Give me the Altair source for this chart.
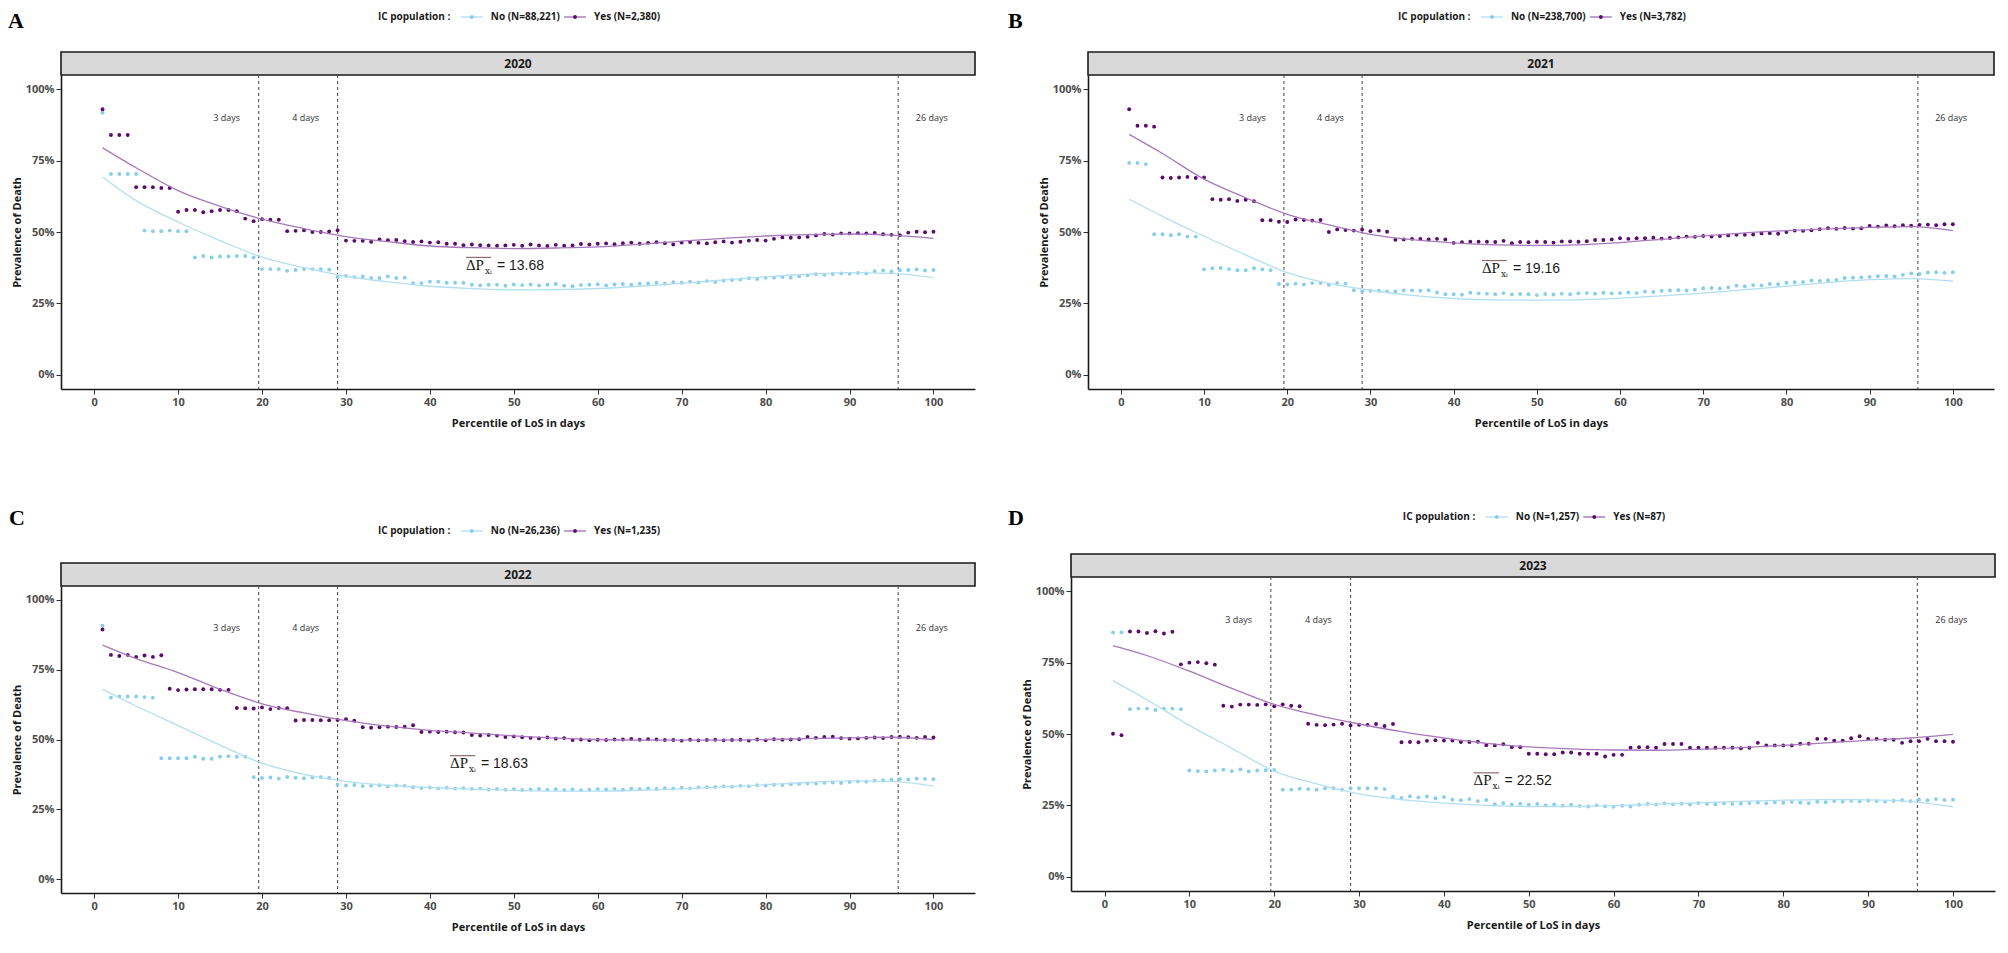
import altair as alt
import pandas as pd

# ---------------- data ----------------
PCT = list(range(1, 101))
FIT_X = [1, 5, 10, 15, 20, 25, 30, 35, 40, 45, 50, 55, 60, 65, 70, 75, 80, 85, 90, 95, 100]

A_YES = [93.0, 84.0, 84.0, 84.0, 65.7, 65.7, 65.7, 65.4, 65.4, 57.1,
         57.7, 57.7, 56.9, 57.3, 57.7, 57.7, 57.3, 54.7, 53.8, 54.5,
         54.3, 54.3, 50.3, 50.4, 50.6, 50.0, 50.0, 50.2, 50.6, 47.0,
         46.9, 46.9, 46.6, 47.4, 47.1, 47.2, 46.8, 46.5, 46.7, 46.3,
         46.4, 45.9, 45.9, 45.4, 45.6, 45.4, 45.3, 45.2, 45.3, 45.5,
         45.2, 45.6, 45.3, 45.1, 45.5, 45.2, 45.3, 45.8, 45.6, 45.9,
         46.0, 45.7, 46.1, 46.3, 45.9, 46.2, 46.4, 46.1, 45.6, 46.3,
         46.5, 46.2, 46.0, 46.4, 46.7, 46.3, 46.6, 47.0, 47.2, 47.0,
         47.6, 48.1, 48.0, 48.1, 48.3, 48.8, 49.3, 49.1, 49.5, 49.5,
         49.6, 49.5, 49.7, 49.2, 49.0, 48.9, 49.8, 50.1, 49.9, 50.1]
A_NO = [91.8, 70.3, 70.3, 70.3, 70.3, 50.5, 50.3, 50.3, 50.5, 50.3,
        50.3, 41.1, 41.6, 41.1, 41.4, 41.4, 41.6, 41.6, 41.1, 37.0,
        37.0, 37.0, 36.4, 36.7, 37.0, 37.0, 37.0, 36.8, 34.2, 34.6,
        34.2, 34.4, 33.9, 33.9, 34.4, 33.9, 34.0, 32.1, 32.1, 32.6,
        32.6, 32.2, 32.2, 32.2, 31.5, 31.3, 31.5, 31.5, 31.2, 31.6,
        31.4, 31.6, 31.3, 31.5, 31.8, 31.2, 31.0, 31.4, 31.5, 31.7,
        31.3, 31.6, 31.8, 31.5, 31.9, 32.0, 32.2, 31.9, 32.4, 32.2,
        32.6, 32.3, 32.8, 32.5, 33.0, 33.2, 33.4, 33.8, 33.5, 34.0,
        34.0, 34.2, 34.0, 34.5, 34.8, 35.2, 35.0, 35.3, 35.5, 35.4,
        35.7, 35.5, 36.3, 36.5, 36.2, 36.6, 36.7, 36.9, 36.5, 36.7]
A_YES_FIT = [79.5, 72.5, 64.5, 59.0, 54.5, 51.2, 48.4, 46.6, 45.1, 44.5, 44.2,
             44.4, 44.8, 45.7, 46.8, 47.8, 48.6, 49.1, 49.3, 48.9, 47.8]
A_NO_FIT = [69.3, 61.0, 53.5, 47.0, 41.2, 37.5, 34.5, 32.5, 31.0, 30.2, 29.7,
            29.8, 30.2, 31.0, 32.0, 33.2, 34.3, 35.2, 35.8, 35.5, 34.0]

B_YES = [93.0, 87.2, 87.2, 86.9, 69.1, 68.9, 69.1, 69.3, 68.9, 69.1,
         61.5, 61.3, 61.5, 60.9, 61.3, 60.8, 54.1, 54.1, 53.6, 53.5,
         54.4, 54.2, 54.0, 54.2, 50.0, 50.9, 50.7, 50.5, 50.9, 50.3,
         50.5, 50.1, 47.3, 47.4, 47.6, 47.6, 47.4, 47.6, 47.4, 46.2,
         46.4, 46.6, 46.6, 46.6, 46.5, 46.9, 46.1, 46.5, 46.4, 46.6,
         46.5, 46.3, 46.7, 46.7, 46.6, 46.8, 47.2, 47.2, 47.4, 47.8,
         47.6, 47.8, 47.8, 48.0, 47.7, 47.9, 48.1, 48.4, 48.3, 48.6,
         48.4, 48.6, 48.8, 49.0, 49.0, 49.1, 49.5, 49.6, 49.4, 50.0,
         50.5, 50.4, 50.6, 51.0, 51.3, 51.1, 51.4, 51.2, 51.3, 52.1,
         51.9, 52.3, 52.0, 52.4, 52.2, 52.5, 52.6, 52.4, 52.7, 52.7]
B_NO = [74.2, 74.2, 73.8, 49.2, 49.2, 48.9, 49.2, 48.4, 48.4, 36.9,
        37.3, 37.4, 37.0, 36.6, 36.6, 37.3, 36.9, 36.6, 31.8, 31.6,
        31.9, 31.6, 32.1, 32.1, 31.5, 32.1, 31.9, 29.6, 29.2, 29.4,
        29.4, 29.2, 29.2, 29.5, 29.5, 29.4, 29.6, 28.8, 28.2, 28.2,
        28.0, 28.7, 28.5, 28.4, 28.2, 28.6, 28.1, 28.3, 28.2, 27.9,
        28.3, 28.1, 28.4, 28.2, 28.5, 28.6, 28.4, 28.7, 28.5, 28.6,
        28.8, 28.6, 29.1, 29.0, 29.4, 29.5, 29.6, 29.5, 29.8, 30.3,
        30.4, 30.2, 30.6, 31.2, 31.0, 31.4, 31.3, 31.8, 31.7, 32.2,
        32.4, 32.5, 33.0, 32.9, 33.1, 33.2, 33.9, 34.0, 34.1, 34.3,
        34.5, 34.6, 34.4, 35.0, 35.5, 35.3, 35.8, 35.9, 35.7, 35.9]
B_YES_FIT = [84.2, 77.5, 68.5, 62.0, 56.2, 52.5, 49.2, 47.3, 46.2, 45.5, 45.3,
             45.5, 46.3, 47.4, 48.6, 49.7, 50.5, 51.1, 51.6, 51.9, 50.5]
B_NO_FIT = [61.5, 55.5, 48.5, 42.0, 35.8, 32.0, 29.6, 27.8, 26.7, 26.2, 26.1,
            26.2, 26.8, 27.6, 28.6, 29.8, 31.0, 32.3, 33.3, 33.7, 32.8]

C_YES = [89.4, 80.3, 79.9, 80.3, 79.6, 80.1, 79.6, 80.2, 68.2, 67.7,
         67.9, 68.0, 68.0, 68.0, 67.8, 67.8, 61.3, 61.2, 61.1, 61.5,
         60.9, 61.3, 61.2, 56.8, 57.0, 57.0, 56.9, 56.9, 57.0, 57.3,
         56.7, 54.4, 54.2, 54.4, 54.6, 54.5, 54.6, 55.1, 52.7, 52.8,
         52.7, 52.8, 52.6, 52.5, 51.6, 51.4, 51.6, 51.4, 50.9, 51.1,
         50.8, 50.6, 50.4, 50.7, 50.3, 50.5, 49.8, 50.0, 49.7, 49.9,
         49.8, 50.0, 50.0, 50.2, 49.9, 50.1, 50.0, 49.8, 49.8, 49.6,
         49.9, 49.7, 49.8, 49.9, 49.7, 49.8, 49.9, 49.6, 50.0, 49.7,
         50.1, 49.9, 50.0, 50.1, 50.9, 50.6, 50.9, 51.0, 50.5, 50.3,
         50.4, 50.6, 50.7, 50.5, 50.9, 51.0, 50.8, 50.6, 50.9, 50.7]
C_NO = [90.8, 65.0, 65.4, 65.4, 65.4, 65.2, 65.0, 43.3, 43.3, 43.3,
        43.3, 43.8, 43.1, 43.1, 43.8, 44.0, 43.8, 43.8, 36.5, 36.2,
        36.4, 36.0, 36.6, 36.3, 36.1, 36.4, 36.5, 36.2, 33.8, 33.5,
        33.7, 33.3, 33.4, 33.6, 33.2, 33.5, 33.4, 32.9, 32.6, 32.8,
        32.5, 32.7, 32.4, 32.6, 32.3, 32.4, 32.1, 32.3, 32.0, 32.2,
        31.9, 32.1, 32.3, 32.0, 32.2, 31.9, 32.1, 31.8, 32.0, 32.2,
        32.1, 32.3, 32.0, 32.4, 32.2, 32.5, 32.3, 32.6, 32.4, 32.7,
        32.5, 32.8, 32.9, 33.0, 33.2, 33.1, 33.4, 33.3, 33.6, 33.5,
        33.8, 33.7, 34.0, 34.1, 34.3, 34.2, 34.5, 34.6, 34.4, 34.8,
        35.0, 34.9, 35.2, 35.3, 35.6, 35.8, 35.7, 36.0, 35.9, 35.8]
C_YES_FIT = [83.8, 79.0, 74.0, 68.0, 62.8, 59.5, 56.8, 54.8, 53.3, 52.3, 51.3,
             50.5, 50.0, 49.8, 49.8, 49.8, 50.0, 50.3, 50.6, 50.8, 50.0]
C_NO_FIT = [68.0, 62.0, 55.0, 48.0, 41.5, 37.5, 35.0, 33.6, 32.8, 32.2, 31.8,
            31.5, 31.5, 31.8, 32.3, 33.0, 33.8, 34.6, 35.2, 35.0, 33.3]

D_YES = [50.1, 49.6, 85.9, 85.9, 85.4, 86.0, 85.2, 85.8, 74.4, 75.0,
         75.2, 74.8, 74.3, 59.9, 59.6, 60.3, 60.3, 60.2, 60.4, 59.7,
         60.4, 59.9, 59.7, 53.6, 53.2, 53.1, 53.3, 53.6, 53.0, 53.2,
         53.2, 53.5, 52.8, 53.5, 47.1, 47.2, 47.1, 47.6, 47.8, 47.7,
         47.7, 47.2, 47.2, 47.3, 46.1, 46.0, 46.4, 45.4, 45.4, 43.1,
         43.1, 42.9, 42.9, 43.5, 43.5, 43.1, 43.1, 43.1, 42.1, 42.7,
         42.7, 45.2, 45.4, 45.4, 45.2, 46.5, 46.5, 46.5, 45.2, 45.2,
         45.2, 45.2, 45.2, 45.2, 45.0, 45.2, 46.9, 46.0, 46.0, 46.0,
         46.0, 46.6, 46.6, 48.3, 48.3, 47.7, 47.7, 48.5, 49.2, 48.3,
         48.3, 48.0, 48.0, 46.9, 47.5, 47.5, 48.3, 47.5, 47.5, 47.3]
D_NO = [85.6, 85.6, 58.7, 58.9, 58.9, 58.4, 58.9, 58.9, 58.7, 37.2,
        37.0, 36.9, 37.2, 37.5, 37.0, 37.6, 36.9, 37.2, 37.3, 37.4,
        30.5, 30.5, 30.8, 30.7, 30.5, 31.0, 31.0, 30.5, 31.0, 31.0,
        31.0, 31.0, 30.7, 28.0, 27.6, 28.2, 27.8, 28.1, 27.5, 27.9,
        27.0, 26.8, 27.2, 26.5, 26.9, 25.4, 25.8, 25.3, 25.6, 25.2,
        25.5, 25.0, 25.3, 24.9, 25.2, 24.8, 24.6, 25.0, 24.7, 24.5,
        24.9, 24.6, 25.2, 25.5, 25.3, 25.7, 25.4, 25.6, 25.3, 25.8,
        25.5, 25.4, 25.7, 25.5, 25.6, 25.8, 26.0, 25.7, 26.1, 25.9,
        26.2, 26.0, 25.8, 26.3, 26.1, 26.5, 26.3, 26.6, 26.4, 26.7,
        26.5, 26.3, 26.6, 26.8, 26.5, 27.0, 26.8, 27.2, 26.9, 27.0]
D_YES_FIT = [81.0, 77.5, 72.0, 66.0, 60.4, 56.6, 53.5, 50.8, 48.6, 46.7, 45.5,
             44.8, 44.4, 44.3, 44.6, 45.2, 46.0, 46.9, 47.8, 48.6, 49.9]
D_NO_FIT = [68.7, 62.0, 53.0, 45.0, 37.0, 32.5, 29.0, 27.0, 25.8, 25.0, 24.6,
            24.6, 24.9, 25.4, 25.9, 26.4, 26.8, 27.0, 26.9, 26.3, 24.5]

LETTERS = ["A", "B", "C", "D"]
YEARS = ["2020", "2021", "2022", "2023"]
LEGEND_TITLE = "IC population :"
NO_LABELS = ["No (N=88,221)", "No (N=238,700)", "No (N=26,236)", "No (N=1,257)"]
YES_LABELS = ["Yes (N=2,380)", "Yes (N=3,782)", "Yes (N=1,235)", "Yes (N=87)"]
DELTAS = ["13.68", "19.16", "18.63", "22.52"]
DELTA_X = [44.3, 43.4, 42.4, 43.5]
DELTA_Y = [36.7, 35.6, 39.8, 32.0]

DAY_LINE_X = [19.6, 29.0, 95.8]
DAY_LABEL_X = [15.8, 25.2, 99.8]
DAY_LABEL_Y = [90, 90, 90]
DAY_LABELS = ["3 days", "4 days", "26 days"]

SERIES = [
    (A_YES, A_NO, A_YES_FIT, A_NO_FIT),
    (B_YES, B_NO, B_YES_FIT, B_NO_FIT),
    (C_YES, C_NO, C_YES_FIT, C_NO_FIT),
    (D_YES, D_NO, D_YES_FIT, D_NO_FIT),
]

# ---------------- layout / style ----------------
LAYOUT = [
    dict(w=914, h=314, lx=-53, ly=-47, legy=-58),
    dict(w=906, h=314, lx=-80, ly=-47, legy=-58),
    dict(w=914, h=307, lx=-52, ly=-61, legy=-55),
    dict(w=924, h=314, lx=-63, ly=-52, legy=-60),
]
FONT = "Open Sans"
PT_NO, PT_YES = "#87CEEB", "#5B0B6C"
LN_NO, LN_YES = "#b3def3", "#a778bb"
X_DOMAIN = [-3.95, 104.95]
Y_DOMAIN = [-5, 105]

_CW = {" ": 2.6, "(": 3.3, ")": 3.3, "=": 5.7, ",": 2.8, ":": 2.8, "N": 7.4,
       "o": 6.2, "e": 5.8, "s": 4.8, "Y": 5.6, "I": 3.3, "C": 6.1, "p": 6.3,
       "u": 6.3, "l": 2.9, "a": 5.9, "t": 4.2, "i": 2.9, "n": 6.3}


def text_w(s):
    return sum(_CW.get(c, 5.7) for c in s)


def legend_layers(i, W, yc):
    labels = [NO_LABELS[i], YES_LABELS[i]]
    total = text_w(LEGEND_TITLE) + 12 + sum(30 + text_w(l) + 6 for l in labels) - 6
    x = W / 2 - total / 2
    txt_kw = dict(font=FONT, fontSize=10, fontWeight="bold", color="#1a1a1a",
                  align="left", baseline="middle")
    out = [alt.Chart(pd.DataFrame({"t": [LEGEND_TITLE]})).mark_text(**txt_kw).encode(
        x=alt.value(x), y=alt.value(yc), text="t:N")]
    x += text_w(LEGEND_TITLE) + 12
    for lab, lc, pc in zip(labels, [LN_NO, LN_YES], [PT_NO, PT_YES]):
        df = pd.DataFrame({"t": [lab]})
        out.append(alt.Chart(df).mark_rule(color=lc, strokeWidth=1.4).encode(
            x=alt.value(x), x2=alt.value(x + 22), y=alt.value(yc)))
        out.append(alt.Chart(df).mark_circle(color=pc, size=15, opacity=1).encode(
            x=alt.value(x + 11), y=alt.value(yc)))
        out.append(alt.Chart(df).mark_text(**txt_kw).encode(
            x=alt.value(x + 30), y=alt.value(yc), text="t:N"))
        x += 30 + text_w(lab) + 6
    return out


def build_panel(i):
    L = LAYOUT[i]
    W, H = L["w"], L["h"]
    yes_pts, no_pts, yes_fit, no_fit = SERIES[i]
    no_lab, yes_lab = NO_LABELS[i], YES_LABELS[i]
    dom = [no_lab, yes_lab]

    xs = alt.Scale(domain=X_DOMAIN, nice=False, zero=False)
    ys = alt.Scale(domain=Y_DOMAIN, nice=False, zero=False)
    xax = alt.Axis(values=list(range(0, 101, 10)), title="Percentile of LoS in days",
                   format="d")
    yax = alt.Axis(values=[0, 25, 50, 75, 100], title="Prevalence of Death",
                   labelExpr="datum.value + '%'")

    pts_df = pd.DataFrame({
        "pct": PCT + PCT,
        "val": no_pts + yes_pts,
        "grp": [no_lab] * len(no_pts) + [yes_lab] * len(yes_pts),
    })
    fit_df = pd.DataFrame({
        "pct": FIT_X + FIT_X,
        "val": no_fit + yes_fit,
        "grp": [no_lab] * len(no_fit) + [yes_lab] * len(yes_fit),
    })
    head_df = pd.DataFrame({"year": [YEARS[i]], "letter": [LETTERS[i]]})
    day_df = pd.DataFrame({"line": DAY_LINE_X, "lx": DAY_LABEL_X,
                           "ly": DAY_LABEL_Y, "lab": DAY_LABELS})
    ann_df = pd.DataFrame({
        "x": [DELTA_X[i]], "y": [DELTA_Y[i]],
        "x2": [DELTA_X[i] + 3.0], "yo": [DELTA_Y[i] + 4.4],
        "val": ["= " + DELTAS[i]],
    })

    X = lambda f: alt.X(f, scale=xs, axis=xax)
    Y = lambda f: alt.Y(f, scale=ys, axis=yax)

    strip = alt.Chart(head_df).mark_rect(
        fill="#d9d9d9", stroke="#1a1a1a", strokeWidth=1.6
    ).encode(x=alt.value(0), x2=alt.value(W), y=alt.value(-23), y2=alt.value(0))
    strip_txt = alt.Chart(head_df).mark_text(
        font=FONT, fontSize=12, fontWeight="bold", color="#1a1a1a"
    ).encode(x=alt.value(W / 2), y=alt.value(-11.5), text="year:N")
    letter = alt.Chart(head_df).mark_text(
        font="Liberation Serif", fontSize=22, fontWeight="bold",
        align="left", baseline="alphabetic", color="black"
    ).encode(x=alt.value(L["lx"]), y=alt.value(L["ly"]), text="letter:N")

    rules = alt.Chart(day_df).mark_rule(
        strokeDash=[3, 3], color="#555555", strokeWidth=1.1
    ).encode(x=X("line:Q"))
    day_txt = alt.Chart(day_df).mark_text(
        font=FONT, fontSize=9, color="#333333"
    ).encode(x=X("lx:Q"), y=Y("ly:Q"), text="lab:N")

    points = alt.Chart(pts_df).mark_circle(size=15, opacity=1).encode(
        x=X("pct:Q"), y=Y("val:Q"),
        fill=alt.Fill("grp:N", scale=alt.Scale(domain=dom, range=[PT_NO, PT_YES]),
                      legend=None),
    )
    lines = alt.Chart(fit_df).mark_line(interpolate="monotone", strokeWidth=1.3).encode(
        x=X("pct:Q"), y=Y("val:Q"),
        color=alt.Color("grp:N", scale=alt.Scale(domain=dom, range=[LN_NO, LN_YES]),
                        legend=None),
    )

    ann_dp = alt.Chart(ann_df).mark_text(
        font="Liberation Serif", fontSize=15, align="left", baseline="alphabetic",
        color="#1a1a1a"
    ).encode(x=X("x:Q"), y=Y("y:Q"), text=alt.value("\u0394P"))
    ann_sub = alt.Chart(ann_df).mark_text(
        font="DejaVu Serif", fontSize=9, align="left", baseline="alphabetic",
        color="#1a1a1a", dx=19, dy=4
    ).encode(x=X("x:Q"), y=Y("y:Q"), text=alt.value("x\u1d62"))
    ann_val = alt.Chart(ann_df).mark_text(
        font="Liberation Sans Narrow, Liberation Sans", fontSize=14, align="left",
        baseline="alphabetic", color="#1a1a1a", dx=31
    ).encode(x=X("x:Q"), y=Y("y:Q"), text="val:N")
    ann_bar = alt.Chart(ann_df).mark_rule(color="#8c6d6d", strokeWidth=1.2).encode(
        x=X("x:Q"), x2="x2:Q", y=Y("yo:Q")
    )

    layers = [strip, strip_txt, rules, day_txt, points, lines,
              ann_dp, ann_sub, ann_val, ann_bar, letter] + legend_layers(i, W, L["legy"])
    return alt.layer(*layers).properties(width=W, height=H)


chart = alt.concat(
    build_panel(0), build_panel(1), build_panel(2), build_panel(3),
    columns=2, align="none", spacing={"row": 79, "column": 32},
).resolve_scale(
    color="independent", fill="independent", x="independent", y="independent"
).properties(padding={"left": 0, "top": 2, "right": 0, "bottom": 0})

chart = chart.configure_view(stroke=None).configure_axis(
    grid=False,
    domainColor="#1a1a1a", domainWidth=1.6,
    tickColor="#333333", tickSize=5, tickWidth=1,
    labelFont=FONT, labelFontSize=11, labelFontWeight="bold", labelColor="#4d4d4d",
    labelPadding=2,
    titleFont=FONT, titleFontSize=11, titleFontWeight="bold", titleColor="#1a1a1a",
).configure_axisX(titlePadding=10).configure_axisY(titlePadding=3)

chart.save("out.html", embed_options={"renderer": "svg", "actions": False})
